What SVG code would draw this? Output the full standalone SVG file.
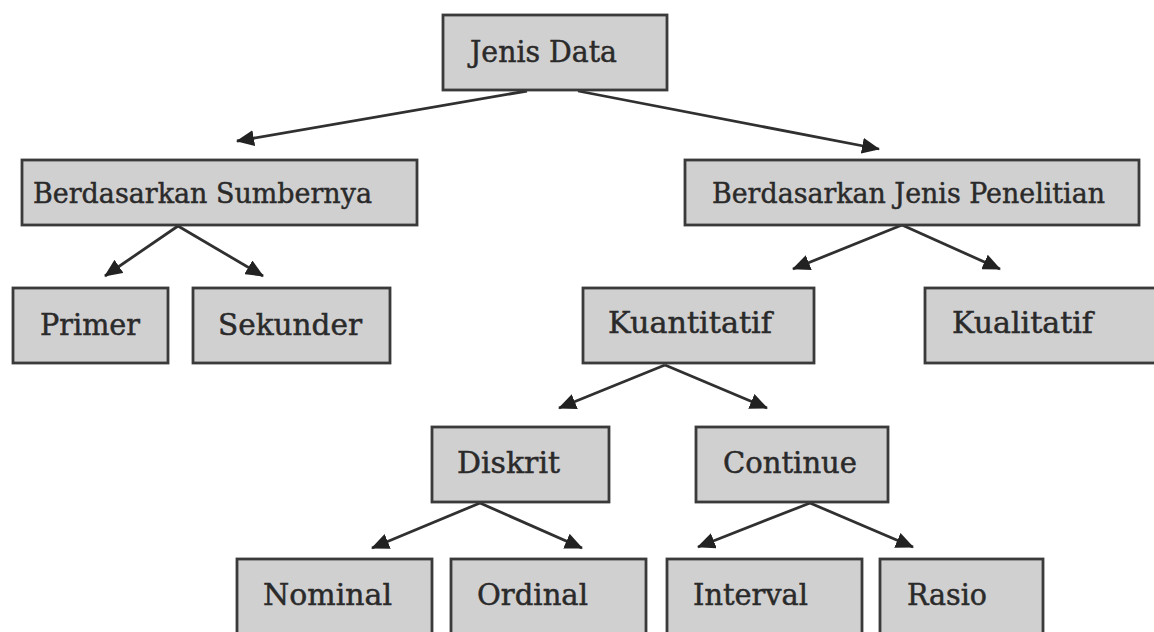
<svg xmlns="http://www.w3.org/2000/svg" width="1154" height="632" viewBox="0 0 1154 632">
<defs>
<style>
.box{fill:#d1d0d1;stroke:#3a3a3a;stroke-width:2.8}
.lbl{font-family:"DejaVu Serif","Liberation Serif",serif;font-size:30px;fill:#2a2a2a;stroke:#2a2a2a;stroke-width:0.5}
.lbl2{font-family:"DejaVu Serif","Liberation Serif",serif;font-size:27px;fill:#2a2a2a;stroke:#2a2a2a;stroke-width:0.45}
.con{stroke:#303030;stroke-width:2.8;fill:none;marker-end:url(#ah)}
</style>
<marker id="ah" markerUnits="userSpaceOnUse" markerWidth="20" markerHeight="16" refX="17" refY="8" orient="auto">
<path d="M0,0 L18,8 L0,16 Z" fill="#222"/>
</marker>
</defs>
<rect width="1154" height="632" fill="#ffffff"/>
<g id="connectors">
<line class="con" x1="527" y1="91" x2="237" y2="141"/>
<line class="con" x1="578" y1="91" x2="879" y2="149"/>
<line class="con" x1="178" y1="226" x2="105" y2="276"/>
<line class="con" x1="178" y1="226" x2="263" y2="276"/>
<line class="con" x1="902" y1="225" x2="793" y2="269"/>
<line class="con" x1="902" y1="225" x2="1000" y2="269"/>
<line class="con" x1="665" y1="365" x2="559" y2="408"/>
<line class="con" x1="665" y1="365" x2="767" y2="408"/>
<line class="con" x1="480" y1="503" x2="372" y2="548"/>
<line class="con" x1="480" y1="503" x2="582" y2="548"/>
<line class="con" x1="810" y1="503" x2="698" y2="547"/>
<line class="con" x1="810" y1="503" x2="913" y2="547"/>
</g>
<g id="jenis-data"><rect class="box" x="443" y="15" width="224" height="75"/><text class="lbl" x="470" y="62" textLength="147" lengthAdjust="spacingAndGlyphs">Jenis Data</text></g>
<g id="berdasarkan-sumbernya"><rect class="box" x="22" y="160" width="395" height="65"/><text class="lbl2" x="33" y="203" textLength="339" lengthAdjust="spacingAndGlyphs">Berdasarkan Sumbernya</text></g>
<g id="berdasarkan-jenis-penelitian"><rect class="box" x="685" y="160" width="454" height="65"/><text class="lbl2" x="712" y="203" textLength="393" lengthAdjust="spacingAndGlyphs">Berdasarkan Jenis Penelitian</text></g>
<g id="primer"><rect class="box" x="13" y="288" width="155" height="75"/><text class="lbl" x="40" y="335" textLength="100" lengthAdjust="spacingAndGlyphs">Primer</text></g>
<g id="sekunder"><rect class="box" x="193" y="288" width="197" height="75"/><text class="lbl" x="218" y="335" textLength="144" lengthAdjust="spacingAndGlyphs">Sekunder</text></g>
<g id="kuantitatif"><rect class="box" x="583" y="288" width="231" height="75"/><text class="lbl" x="608" y="333" textLength="164" lengthAdjust="spacingAndGlyphs">Kuantitatif</text></g>
<g id="kualitatif"><rect class="box" x="925" y="288" width="232" height="75"/><text class="lbl" x="952" y="333" textLength="141" lengthAdjust="spacingAndGlyphs">Kualitatif</text></g>
<g id="diskrit"><rect class="box" x="432" y="427" width="177" height="75"/><text class="lbl" x="457" y="473" textLength="103" lengthAdjust="spacingAndGlyphs">Diskrit</text></g>
<g id="continue"><rect class="box" x="696" y="427" width="192" height="75"/><text class="lbl" x="723" y="473" textLength="134" lengthAdjust="spacingAndGlyphs">Continue</text></g>
<g id="nominal"><rect class="box" x="237" y="559" width="195" height="85"/><text class="lbl" x="263" y="605" textLength="129" lengthAdjust="spacingAndGlyphs">Nominal</text></g>
<g id="ordinal"><rect class="box" x="451" y="559" width="195" height="85"/><text class="lbl" x="477" y="605" textLength="111" lengthAdjust="spacingAndGlyphs">Ordinal</text></g>
<g id="interval"><rect class="box" x="667" y="559" width="195" height="85"/><text class="lbl" x="693" y="605" textLength="115" lengthAdjust="spacingAndGlyphs">Interval</text></g>
<g id="rasio"><rect class="box" x="880" y="559" width="163" height="85"/><text class="lbl" x="907" y="605" textLength="80" lengthAdjust="spacingAndGlyphs">Rasio</text></g>
</svg>
